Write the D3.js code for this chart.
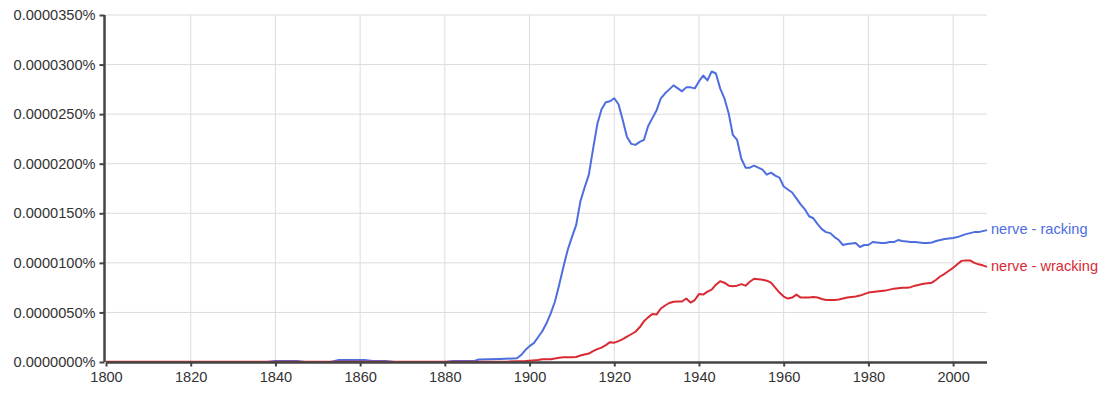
<html>
<head>
    <script src="https://d3js.org/d3.v7.min.js"></script>
    <style>
        body { margin: 0; background: #fff; }
        text { font-family: "Liberation Sans", Arial, sans-serif; }
    </style>
</head>
<body>
<svg width="1112" height="394"></svg>
<script>

// values are in millionths of a percent (29.3 -> 0.0000293%)
var rackingYears = [1800, 1838, 1840, 1845, 1847, 1853, 1855, 1861, 1863, 1866, 1868, 1880, 1882, 1887, 1888, 1893,
    1897, 1898, 1899, 1900, 1901, 1902, 1903, 1904, 1905, 1906, 1907, 1908, 1909, 1910,
    1911, 1912, 1913, 1914, 1915, 1916, 1917, 1918, 1919, 1920, 1921, 1922, 1923, 1924, 1925,
    1926, 1927, 1928, 1929, 1930, 1931, 1932, 1933, 1934, 1935, 1936, 1937, 1938, 1939, 1940,
    1941, 1942, 1943, 1944, 1945, 1946, 1947, 1948, 1949, 1950, 1951, 1952, 1953, 1954, 1955,
    1956, 1957, 1958, 1959, 1960, 1961, 1962, 1963, 1964, 1965, 1966, 1967, 1968, 1969, 1970,
    1971, 1972, 1973, 1974, 1975, 1976, 1977, 1978, 1979, 1980, 1981, 1982, 1983, 1984, 1985,
    1986, 1987, 1988, 1989, 1990, 1991, 1992, 1993, 1994, 1995, 1996, 1997, 1998, 1999, 2000,
    2001, 2002, 2003, 2004, 2005, 2006, 2007, 2008]
var rackingValues = [0, 0, 0.1, 0.1, 0, 0, 0.2, 0.2, 0.1, 0.1, 0, 0, 0.1, 0.1, 0.25, 0.3,
    0.37, 0.7, 1.2, 1.6, 1.9, 2.5, 3.1, 3.9, 4.9, 6.1, 7.8, 9.6, 11.3, 12.6,
    13.8, 16.2, 17.6, 18.9, 21.5, 24.0, 25.5, 26.2, 26.3, 26.6, 26.0, 24.4, 22.7, 22.0, 21.9,
    22.2, 22.4, 23.8, 24.6, 25.4, 26.6, 27.1, 27.5, 27.9, 27.6, 27.3, 27.7, 27.7, 27.6, 28.3,
    28.9, 28.4, 29.3, 29.1, 27.6, 26.6, 25.1, 22.9, 22.4, 20.5, 19.6, 19.6, 19.8, 19.6, 19.4,
    18.9, 19.1, 18.8, 18.6, 17.7, 17.4, 17.1, 16.5, 15.9, 15.4, 14.7, 14.5, 13.9, 13.4, 13.1,
    13.0, 12.6, 12.3, 11.8, 11.9, 11.95, 12.0, 11.6, 11.8, 11.8, 12.1, 12.05, 12.0, 12.0, 12.1,
    12.1, 12.3, 12.2, 12.15, 12.1, 12.1, 12.05, 12.0, 12.0, 12.05, 12.2, 12.3, 12.4, 12.45, 12.5,
    12.6, 12.75, 12.9, 13.0, 13.1, 13.1, 13.2, 13.3]

var wrackingYears = [1800, 1895, 1899, 1900, 1902, 1903, 1905, 1906, 1907, 1908, 1910,
    1911, 1912, 1913, 1914, 1915, 1916, 1917, 1918, 1919, 1920, 1921, 1922, 1923, 1924, 1925,
    1926, 1927, 1928, 1929, 1930, 1931, 1932, 1933, 1934, 1935, 1936, 1937, 1938, 1939, 1940,
    1941, 1942, 1943, 1944, 1945, 1946, 1947, 1948, 1949, 1950, 1951, 1952, 1953, 1954, 1955,
    1956, 1957, 1958, 1959, 1960, 1961, 1962, 1963, 1964, 1965, 1966, 1967, 1968, 1969, 1970,
    1971, 1972, 1973, 1974, 1975, 1976, 1977, 1978, 1979, 1980, 1981, 1982, 1983, 1984, 1985,
    1986, 1987, 1988, 1989, 1990, 1991, 1992, 1993, 1994, 1995, 1996, 1997, 1998, 1999, 2000,
    2001, 2002, 2003, 2004, 2005, 2006, 2007, 2008]
var wrackingValues = [0.02, 0.05, 0.1, 0.13, 0.2, 0.27, 0.27, 0.35, 0.43, 0.47, 0.47,
    0.5, 0.65, 0.75, 0.85, 1.1, 1.3, 1.45, 1.7, 2.0, 1.95, 2.1, 2.3, 2.55, 2.8, 3.05,
    3.5, 4.1, 4.5, 4.84, 4.8, 5.4, 5.7, 5.95, 6.08, 6.1, 6.1, 6.4, 6.0, 6.25, 6.85,
    6.8, 7.1, 7.3, 7.8, 8.15, 8.0, 7.7, 7.65, 7.7, 7.85, 7.7, 8.1, 8.4, 8.35, 8.3,
    8.2, 8.0, 7.5, 7.0, 6.6, 6.4, 6.5, 6.8, 6.5, 6.5, 6.5, 6.55, 6.5, 6.35, 6.25,
    6.25, 6.25, 6.3, 6.4, 6.5, 6.55, 6.6, 6.7, 6.85, 7.0, 7.05, 7.1, 7.15, 7.2, 7.3,
    7.4, 7.45, 7.5, 7.5, 7.55, 7.7, 7.8, 7.9, 7.95, 8.0, 8.3, 8.65, 8.9, 9.2, 9.5,
    9.85, 10.2, 10.25, 10.25, 10.0, 9.85, 9.75, 9.6]

var seriesNames = ['nerve - racking', 'nerve - wracking']
var seriesColors = ['#4e6ddf', '#d92a33']
var xTicks = [1800, 1820, 1840, 1860, 1880, 1900, 1920, 1940, 1960, 1980, 2000]
var yTicks = [0, 5, 10, 15, 20, 25, 30, 35]

var fontSize = 14.6

var svg = d3.select('svg')

var x = d3.scaleLinear().domain([1800, 2008]).range([106, 987])
var y = d3.scaleLinear().domain([0, 35]).range([362, 15])

// grid
svg.append('g')
    .selectAll('line')
    .data(xTicks.slice(1))
    .enter()
    .append('line')
    .attr('x1', function(d){ return x(d) })
    .attr('x2', function(d){ return x(d) })
    .attr('y1', y(35))
    .attr('y2', y(0))
    .attr('stroke', '#dcdcdc')

svg.append('g')
    .selectAll('line')
    .data(yTicks.slice(1))
    .enter()
    .append('line')
    .attr('x1', x(1800))
    .attr('x2', x(2008))
    .attr('y1', function(d){ return y(d) })
    .attr('y2', function(d){ return y(d) })
    .attr('stroke', '#dcdcdc')

// lines
var series = [
    {name: seriesNames[0], color: seriesColors[0], years: rackingYears, values: rackingValues},
    {name: seriesNames[1], color: seriesColors[1], years: wrackingYears, values: wrackingValues}
]

var line = d3.line()
    .x(function(d){ return x(d[0]) })
    .y(function(d){ return y(d[1]) })

series.forEach(function(s){
    var pts = s.years.map(function(yr, i){ return [yr, s.values[i]] })
    svg.append('path')
        .datum(pts)
        .attr('d', line)
        .attr('fill', 'none')
        .attr('stroke', s.color)
        .attr('stroke-width', 2)
        .attr('stroke-linejoin', 'round')

    var last = pts[pts.length - 1]
    svg.append('text')
        .attr('x', x(last[0]) + 4)
        .attr('y', y(last[1]) + 3.8)
        .attr('fill', s.color)
        .attr('font-size', fontSize)
        .text(s.name)
})

// axes
var yAxis = d3.axisLeft(y)
    .tickValues(yTicks)
    .tickSize(5)
    .tickPadding(4)
    .tickFormat(function(d){ return (d * 1e-6).toFixed(7) + '%' })

var xAxis = d3.axisBottom(x)
    .tickValues(xTicks)
    .tickSize(4)
    .tickPadding(5.5)
    .tickFormat(d3.format('d'))

var gy = svg.append('g')
    .attr('transform', 'translate(104.5,0)')
    .call(yAxis)

var gx = svg.append('g')
    .attr('transform', 'translate(0,362.5)')
    .call(xAxis)

svg.selectAll('.domain')
    .attr('stroke', '#444')
    .attr('stroke-width', 2.5)
svg.selectAll('.tick line')
    .attr('stroke', '#444')
    .attr('stroke-width', 2)
svg.selectAll('.tick text')
    .attr('fill', '#333')
    .attr('font-size', fontSize)
    .attr('font-family', '"Liberation Sans", Arial, sans-serif')

gx.select('.domain').attr('d', 'M' + x(1800) + ',0H' + x(2008))
gy.select('.domain').attr('d', 'M0,' + y(35) + 'V' + y(0))

</script>
</body>
</html>
